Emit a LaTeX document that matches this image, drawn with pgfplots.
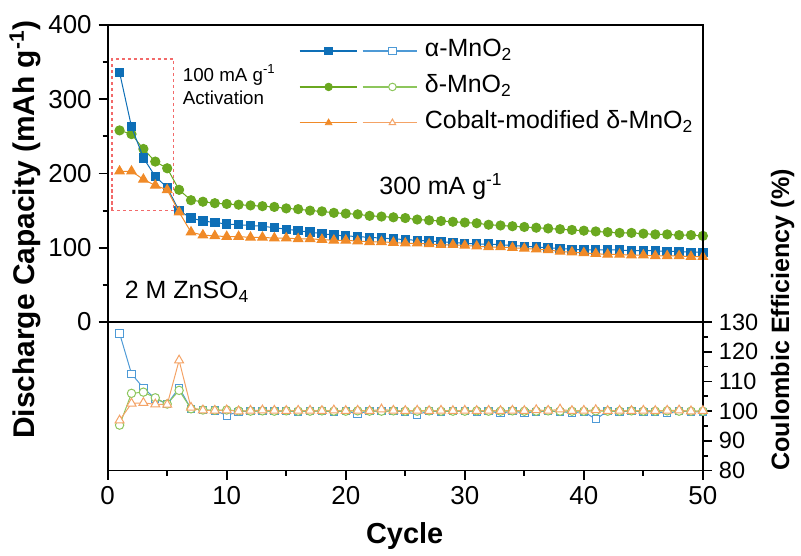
\documentclass[border=0pt]{standalone}
\usepackage{fontspec}
\setmainfont{Liberation Sans}
\usepackage{pgfplots}
\pgfplotsset{compat=1.18}

\definecolor{cb}{HTML}{0E6FB7}
\definecolor{cg}{HTML}{6AA820}
\definecolor{co}{HTML}{F08A28}
\definecolor{cbl}{HTML}{4E9AD6}
\definecolor{cgl}{HTML}{8DC65C}
\definecolor{col}{HTML}{F4A366}
\definecolor{cred}{HTML}{F26A6A}

\pgfplotsset{
 legimg/.style n args={3}{legend image code/.code={
   \draw[#1, line width=0.6pt] (0pt,0pt) -- (28.5pt,0pt);
   \draw[#2, line width=0.6pt] (31.5pt,0pt) -- (59pt,0pt);
   \draw[#1] plot[mark=#3, mark size=1.9pt, mark options={solid, draw=#1, fill=#1}] coordinates {(14.5pt,0pt)};
   \draw[#2] plot[mark=#3, mark size=1.9pt, mark options={solid, draw=#2, fill=white, line width=0.5pt}] coordinates {(46.5pt,0pt)};
 }}
}

\begin{document}
\begin{tikzpicture}
\begin{axis}[name=ax, scale only axis, width=298.5pt, height=223.5pt,
 clip mode=individual,
 xmin=0, xmax=50, ymin=-200, ymax=400,
 xtick={0,10,...,50}, minor xtick={5,15,...,45},
 ytick={0,100,...,400}, minor ytick={50,150,...,350},
 xtick pos=left, ytick pos=left, tick align=outside,
 major tick length=4.5pt, minor tick length=2.5pt,
 axis line style={line width=0.9pt},
 tick style={line width=0.9pt, black},
 /pgf/number format/assume math mode=true,
 tick label style={font=\fontsize{13}{15}\selectfont},
 legend style={at={(axis cs:16.08,381.6)}, anchor=north west, draw=none, fill=none,
   inner sep=0pt, outer sep=0pt, font=\fontsize{12.5}{14}\selectfont, row sep=5.5pt,
   nodes={inner sep=0pt, text height=9pt, text depth=3.5pt},
   /tikz/every odd column/.append style={column sep=3.5pt}},
 legend cell align=left,
]
\addlegendimage{legimg={cb}{cbl}{square*}}
\addlegendentry{α-MnO\textsubscript{2}}
\addlegendimage{legimg={cg}{cgl}{*}}
\addlegendentry{δ-MnO\textsubscript{2}}
\addlegendimage{legimg={co}{col}{triangle*}}
\addlegendentry{Cobalt-modified δ-MnO\textsubscript{2}}

\draw[line width=0.9pt] (axis cs:0,0) -- (axis cs:50,0);
\draw[cred, dash pattern=on 1.6pt off 1.4pt, line width=0.7pt] (axis cs:0.35,150) rectangle (axis cs:5.55,354);

% delta-MnO2 capacity
\addplot[cg, line width=0.5pt, mark=*, mark size=2.3pt, mark options={fill=cg}, forget plot] table {
x y
1 258
2 253
3 233
4 216
5 207
6 178
7 164
8 162
9 160
10 159
11 158
12 157
13 156
14 155
15 153
16 152
17 150
18 149
19 147
20 146
21 145
22 143
23 142
24 141
25 140
26 138
27 137
28 136
29 135
30 134
31 133
32 131
33 130
34 129
35 128
36 127
37 126
38 125
39 124
40 123
41 122
42 121
43 120
44 120
45 119
46 118
47 118
48 117
49 117
50 116
};
% alpha-MnO2 capacity
\addplot[cb, line width=0.5pt, mark=square*, mark size=2.1pt, mark options={fill=cb}, forget plot] table {
x y
1 336
2 263
3 221
4 196
5 181
6 150
7 140
8 136
9 134
10 132
11 131
12 130
13 129
14 127
15 125
16 123
17 121
18 119
19 117
20 116
21 115
22 114
23 113
24 112
25 111
26 110
27 109
28 108
29 107
30 106
31 105
32 105
33 104
34 103
35 102
36 101
37 100
38 99
39 98
40 97
41 97
42 97
43 97
44 96
45 96
46 96
47 95
48 95
49 94
50 94
};
% Co-modified capacity
\addplot[co, line width=0.5pt, mark=triangle*, mark size=2.7pt, mark options={fill=co}, forget plot] table {
x y
1 203
2 203
3 192
4 184
5 178
6 148
7 121
8 117
9 116
10 115
11 115
12 114
13 114
14 113
15 113
16 112
17 112
18 111
19 110
20 110
21 109
22 108
23 108
24 107
25 106
26 106
27 105
28 104
29 104
30 103
31 102
32 101
33 101
34 100
35 99
36 98
37 97
38 95
39 94
40 93
41 92
42 91
43 91
44 90
45 90
46 89
47 89
48 89
49 88
50 88
};

\node[anchor=west, font=\fontsize{9.4}{11.5}\selectfont, align=left, inner sep=0pt] at (axis cs:6.28,320) {100 mA g\textsuperscript{-1}\\Activation};
\node[anchor=base west, font=\fontsize{12.5}{14}\selectfont, inner sep=0pt] at (axis cs:22.8,172) {300 mA g\textsuperscript{-1}};
\node[anchor=base west, font=\fontsize{12.5}{14}\selectfont, inner sep=0pt] at (axis cs:1.42,31.8) {2 M ZnSO\textsubscript{4}};

\node[rotate=90, font=\bfseries\fontsize{15}{17}\selectfont] at (axis description cs:-0.139,0.541) {Discharge Capacity (mAh g\textsuperscript{-1})};
\node[anchor=base, font=\bfseries\fontsize{14.5}{17}\selectfont] at (axis description cs:0.499,-0.163) {Cycle};
\node[rotate=90, font=\bfseries\fontsize{12.6}{14}\selectfont] at (axis description cs:1.134,0.338) {Coulombic Efficiency (\%)};
\end{axis}

\begin{axis}[scale only axis, width=298.5pt, height=223.5pt,
 at={(ax.south west)}, anchor=south west,
 xmin=0, xmax=50, ymin=80, ymax=230,
 axis x line=none, axis y line*=right,
 ytick={80,90,...,130}, minor ytick={85,95,...,125},
 tick align=outside,
 major tick length=4.5pt, minor tick length=2.5pt,
 axis line style={line width=0.9pt},
 tick style={line width=0.9pt, black},
 /pgf/number format/assume math mode=true,
 tick label style={font=\fontsize{11.8}{14}\selectfont},
]
\addplot[cbl, line width=0.5pt, mark=square*, mark size=1.85pt, mark options={fill=white, line width=0.5pt}] table {
x y
1 126.2
2 112.6
3 107.8
4 104.2
5 102.4
6 107.9
7 100.8
8 100.4
9 100.2
10 98.6
11 99.8
12 100.0
13 100.0
14 100.0
15 100.0
16 99.8
17 100.0
18 100.0
19 99.8
20 100.0
21 99.2
22 100.0
23 100.0
24 100.0
25 99.8
26 98.9
27 100.0
28 99.8
29 100.0
30 100.0
31 99.8
32 100.0
33 99.3
34 100.0
35 99.4
36 99.8
37 100.0
38 99.8
39 99.5
40 99.8
41 97.3
42 100.0
43 99.8
44 100.0
45 99.8
46 99.8
47 99.3
48 100.0
49 99.8
50 99.8
};
\addplot[cgl, line width=0.5pt, mark=*, mark size=2.1pt, mark options={fill=white, line width=0.5pt}] table {
x y
1 95.3
2 106.0
3 106.4
4 104.5
5 102.4
6 107.0
7 100.8
8 100.4
9 100.3
10 100.4
11 100.1
12 100.0
13 100.1
14 100.0
15 100.1
16 100.0
17 100.0
18 100.1
19 100.0
20 100.0
21 100.1
22 100.0
23 100.0
24 100.1
25 100.0
26 100.0
27 100.1
28 100.0
29 100.0
30 100.0
31 100.1
32 100.0
33 100.0
34 100.1
35 100.0
36 100.0
37 100.1
38 100.0
39 100.0
40 100.0
41 100.1
42 100.0
43 100.0
44 100.1
45 100.0
46 100.0
47 100.1
48 100.0
49 100.0
50 100.0
};
\addplot[col, line width=0.5pt, mark=triangle*, mark size=2.6pt, mark options={fill=white, line width=0.5pt}] table {
x y
1 96.9
2 102.6
3 102.8
4 102.3
5 102.2
6 117.1
7 101.2
8 100.3
9 100.2
10 100.3
11 100.0
12 100.2
13 100.3
14 100.2
15 100.1
16 100.2
17 100.2
18 100.1
19 100.3
20 100.1
21 100.2
22 100.1
23 100.6
24 100.2
25 100.1
26 100.2
27 100.1
28 100.2
29 100.1
30 100.2
31 100.1
32 100.2
33 100.1
34 100.2
35 100.1
36 100.4
37 100.2
38 100.6
39 100.1
40 100.2
41 100.4
42 100.1
43 100.2
44 100.1
45 100.2
46 100.1
47 100.2
48 100.3
49 100.0
50 100.1
};
\end{axis}
\path[use as bounding box] ([xshift=-54pt,yshift=-40pt]ax.south west) rectangle ([xshift=48pt,yshift=12.5pt]ax.north east);
\end{tikzpicture}
\end{document}
